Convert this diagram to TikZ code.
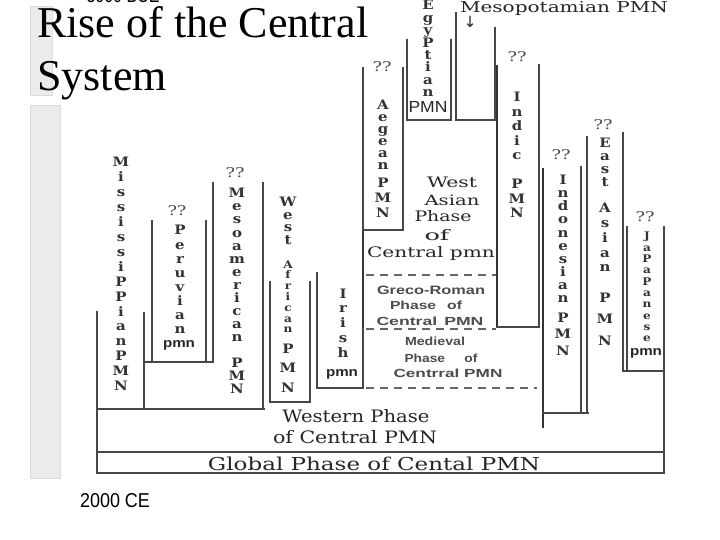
\documentclass[tikz,border=0pt]{standalone}
\usepackage{fontspec}
\usepackage{graphicx}
\setmainfont{Liberation Serif}
\newfontfamily\slab{DejaVu Serif}
\newfontfamily\sansf{Liberation Sans}
\newfontfamily\symf{DejaVu Sans}
\newcommand\rsz[3]{\resizebox{#1pt}{#2pt}{#3}}
\tikzset{
  wall/.style={draw=black!72, line width=1.6pt, line cap=rect},
  heavy/.style={draw=black!80, line width=2.6pt},
  dashline/.style={draw=black!60, line width=1.2pt, dash pattern=on 8pt off 6pt},
  vl/.style={font=\slab\bfseries\fontsize{13}{13}\selectfont, inner sep=0pt, anchor=base, text=black!80},
  vls/.style={font=\slab\bfseries\fontsize{10.5}{10.5}\selectfont, inner sep=0pt, anchor=base, text=black!80},
  qq/.style={font=\slab\fontsize{10}{10}\selectfont, inner sep=0pt, anchor=base, text=black!70},
  tb/.style={inner sep=0pt, anchor=base, text=black!85},
  grbar/.style={fill=black!8, draw=black!14, line width=0.8pt}
}
\newcommand\vlabel[5]{\foreach \ch [count=\k from 0] in {#5} {\node[vl] (#1\k) at (#2,{#3+#4*\k}) {\scalebox{1.15}[1]{\ch}};}}
\newcommand\vlabelsm[5]{\foreach \ch [count=\k from 0] in {#5} {\node[vls] (#1\k) at (#2,{#3+#4*\k}) {\scalebox{1.15}[1]{\ch}};}}
\newcommand\qmark[3]{\node[qq] (#1) at (#2,#3) {\rsz{19}{10}{??}};}
\begin{document}
\begin{tikzpicture}[x=1pt,y=-1pt]
\clip (0,0) rectangle (720,540);
\fill[white] (0,0) rectangle (720,540);
% faint grey bars at left
\path[grbar] (30,6) rectangle (52,95);
\path[grbar] (30,105) rectangle (60,478);
% title and dates
\node[tb, font=\fontsize{44}{44}\selectfont, anchor=base west, text=black] (t1) at (37,38) {Rise of the Central};
\node[tb, font=\fontsize{44}{44}\selectfont, anchor=base west, text=black] (t2) at (37,91) {System};
\node[tb, text=black] (bce) at (123,3) {\sansf\rsz{73}{14}{3000 BCE}};
\node[tb, text=black] (ce) at (115,507) {\sansf\rsz{70}{14}{2000 CE}};

% ---- walls ----
% global box
\draw[wall] (97,452) -- (662,452);
\draw[wall] (97,473) -- (664,473);
\draw[wall] (97,312) -- (97,473);
% Mississippian / Mesoamerican base
\draw[wall] (144,313) -- (144,409);
\draw[wall, line width=2.2pt] (97,409) -- (264,409);
% Peruvian
\draw[wall] (152,221) -- (152,362);
\draw[wall] (206,221) -- (206,362);
\draw[wall] (144,362) -- (213,362);
% Mesoamerican
\draw[wall] (213,183) -- (213,362);
\draw[wall] (263,183) -- (263,409);
% West African
\draw[wall] (270,282) -- (270,402) -- (310,402) -- (310,282);
% Irish
\draw[wall] (317,273) -- (317,388) -- (363,388);
% central left edge & Aegean
\draw[wall] (363,68) -- (363,388);
\draw[heavy] (363,230) -- (363,328);
\draw[wall] (403,68) -- (403,230) -- (363,230);
% Egyptian
\draw[wall] (407,40) -- (407,120) -- (451,120) -- (451,40);
% Mesopotamian
\draw[wall] (456,13) -- (456,120) -- (495,120) -- (495,28);
% Indic
\draw[heavy] (497,65) -- (497,327);
\draw[wall] (497,327) -- (539,327) -- (539,65);
% dashed phase separators
\draw[dashline] (366,275) -- (496,275);
\draw[dashline] (366,329) -- (496,329);
\draw[dashline] (366,388) -- (537,388);
% Indonesian
\draw[heavy] (543,168) -- (543,428);
\draw[wall] (543,413) -- (588,413);
\draw[wall] (581,167) -- (581,413);
% East Asian
\draw[wall] (587,137) -- (587,413);
\draw[wall] (623,133) -- (623,371);
% Japanese
\draw[wall] (627,227) -- (627,371);
\draw[wall] (623,371) -- (664,371);
\draw[wall] (664,227) -- (664,473);

% ---- vertical labels ----
\vlabel{mis}{121}{167}{14.9}{M,i,s,s,i,s,s,i,P,P,i,a,n,P,M,N}
\qmark{qper}{177}{215}
\vlabel{per}{180}{235}{14}{P,e,r,u,v,i,a,n}
\node[tb] (pmnper) at (179,347) {\sansf\bfseries\rsz{32}{7}{pmn}};
\qmark{qmes}{235}{178}
\vlabel{mes}{237}{198}{13}{M,e,s,o,a,m,e,r,i,c,a,n,~,P,M,N}
\vlabel{wes}{288}{207}{12.5}{W,e,s,t}
\vlabelsm{afr}{288}{268}{10.8}{A,f,r,i,c,a,n}
\vlabel{wap}{288}{353}{19.5}{P,M,N}
\vlabel{iri}{343}{298}{14.75}{I,r,i,s,h}
\node[tb] (pmniri) at (342,376) {\sansf\bfseries\rsz{32}{7}{pmn}};
\qmark{qaeg}{382}{72}
\vlabel{aeg}{383}{110}{12}{A,e,g,e,a,n}
\vlabel{aep}{383}{188}{15}{P,M,N}
\vlabel{egy}{428}{10}{12.4}{E,g,y,P,t,i,a,n}
\node[tb] (pmnegy) at (428,113) {\sansf\rsz{39}{11}{PMN}};
\node[tb] (meso) at (564,13) {\slab\rsz{208}{11}{Mesopotamian PMN}};
\node[inner sep=0pt, text=black!85] (arr) at (470,22) {\symf\resizebox{13pt}{!}{↓}};
\qmark{qind}{517}{62}
\vlabel{ind}{517}{102}{14.5}{I,n,d,i,c,~,P,M,N}
\qmark{qino}{561}{160}
\vlabel{ino}{563}{185}{13}{I,n,d,o,n,e,s,i,a,n}
\vlabel{inp}{563}{322}{16.5}{P,M,N}
\qmark{qeas}{603}{130}
\vlabel{eas}{605}{148}{13}{E,a,s,t}
\vlabel{eaa}{605}{213}{14.7}{A,s,i,a,n}
\vlabel{eap}{605}{302}{21.5}{P,M,N}
\qmark{qjap}{645}{221}
\vlabelsm{jap}{647}{240}{11.3}{J,a,P,a,P,a,n,e,s,e}
\node[tb] (pmnjap) at (646,355) {\sansf\bfseries\rsz{32}{7}{pmn}};

% ---- horizontal phase texts ----
\node[tb] (wa1) at (452,187) {\slab\rsz{50}{10.5}{West}};
\node[tb] (wa2) at (452,205) {\slab\rsz{55}{10.5}{Asian}};
\node[tb] (wa3) at (443,222) {\slab\rsz{57}{11}{Phase}};
\node[tb] (wa4) at (437,240) {\slab\rsz{25}{11}{of}};
\node[tb] (wa5) at (431,257) {\slab\rsz{128}{11}{Central pmn}};
\node[tb, text=black!70] (gr1) at (431,294) {\sansf\bfseries\rsz{108}{8.5}{Greco-Roman}};
\node[tb, text=black!70] (gr2) at (426,309) {\sansf\bfseries\rsz{72}{8.5}{Phase\hspace{0.7em}of}};
\node[tb, text=black!70] (gr3) at (430,325) {\sansf\bfseries\rsz{107}{8.5}{Central\hspace{0.4em}PMN}};
\node[tb, text=black!70] (md1) at (435,345) {\sansf\bfseries\rsz{60}{8.5}{Medieval}};
\node[tb, text=black!70] (md2) at (441,362) {\sansf\bfseries\rsz{73}{8.5}{Phase\hspace{1.4em}of}};
\node[tb, text=black!70] (md3) at (448,377) {\sansf\bfseries\rsz{109}{8.5}{Centrral PMN}};
\node[tb] (we1) at (356,422) {\slab\rsz{147}{13}{Western Phase}};
\node[tb] (we2) at (355,443) {\slab\rsz{164}{13}{of Central PMN}};
\node[tb] (glob) at (374,470) {\slab\rsz{332}{13.5}{Global Phase of Cental PMN}};
\end{tikzpicture}
\end{document}
